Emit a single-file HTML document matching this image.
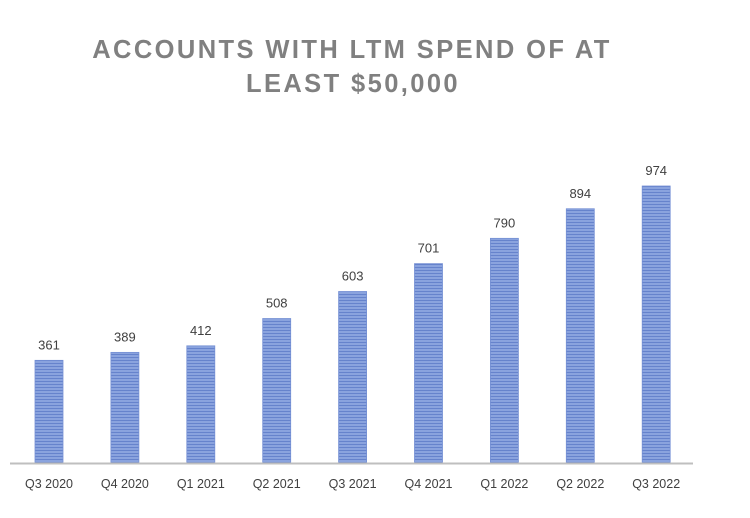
<!DOCTYPE html>
<html><head><meta charset="utf-8"><style>
body{margin:0;background:#fff;}
svg{display:block;font-family:"Liberation Sans",sans-serif;}
</style></head><body>
<svg id="chart" width="750" height="518" viewBox="0 0 750 518">
<defs>
<pattern id="stripes" width="4" height="3" patternUnits="userSpaceOnUse">
<rect width="4" height="3" fill="#8aa3de"/>
<rect width="4" height="1" fill="#6683cc"/>
</pattern>
</defs>
<text x="352" y="58" text-anchor="middle" font-size="25.5" font-weight="bold" fill="#808080" letter-spacing="2.4">ACCOUNTS WITH LTM SPEND OF AT</text>
<text x="353" y="92" text-anchor="middle" font-size="25.5" font-weight="bold" fill="#808080" letter-spacing="2.4">LEAST $50,000</text>
<g id="bars"></g>
<line x1="10" y1="463.5" x2="693" y2="463.5" stroke="#bfbfbf" stroke-width="2"/>
</svg>
<script>
const categories=["Q3 2020","Q4 2020","Q1 2021","Q2 2021","Q3 2021","Q4 2021","Q1 2022","Q2 2022","Q3 2022"];
const values=[361,389,412,508,603,701,790,894,974];
const valueLabels=["361","389","412","508","603","701","790","894","974"];
const y0=463, yTop=186, maxV=974;
function yScale(v){return y0-(v/maxV)*(y0-yTop);}
function xScale(i){return 49+i*75.9;}
const ns="http://www.w3.org/2000/svg";
const g=document.getElementById('bars');
categories.forEach((c,i)=>{
  const cx=xScale(i), y=yScale(values[i]);
  const r=document.createElementNS(ns,'rect');
  
  
  r.setAttribute('x',cx-14);r.setAttribute('y',y);r.setAttribute('width',28);r.setAttribute('height',y0-y);
  r.setAttribute('fill','url(#stripes)');r.setAttribute('stroke','#7590d4');r.setAttribute('stroke-width','0.8');
  g.appendChild(r);
  const t=document.createElementNS(ns,'text');
  
  
  t.setAttribute('x',cx);t.setAttribute('y',y-11);t.setAttribute('text-anchor','middle');
  t.setAttribute('font-size','13');t.setAttribute('fill','#404040');
  t.textContent=valueLabels[i];g.appendChild(t);
  const l=document.createElementNS(ns,'text');
  
  
  l.setAttribute('x',cx);l.setAttribute('y',488);l.setAttribute('text-anchor','middle');
  l.setAttribute('font-size','12.5');l.setAttribute('fill','#404040');
  l.textContent=c;g.appendChild(l);
});
</script>
</body></html>
